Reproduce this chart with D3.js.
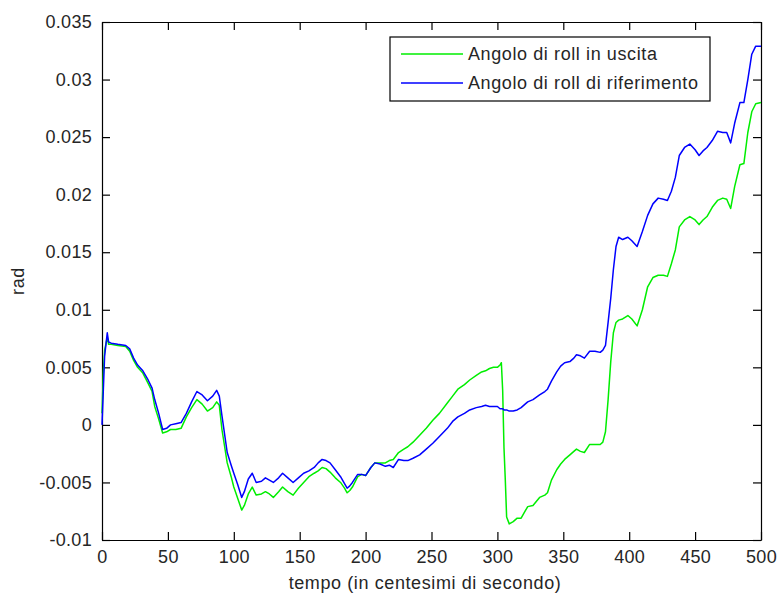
<!DOCTYPE html>
<html>
<head>
<meta charset="utf-8">
<script src="https://cdn.jsdelivr.net/npm/d3@7"></script>
<style>
  body { margin: 0; background: #fff; }
  svg { display: block; font-family: "Liberation Sans", Arial, sans-serif; }
</style>
</head>
<body>
<svg id="chart"></svg>
<script>
// time samples (centesimi di secondo) shared by both series
const tempo = [0, 1, 2, 4, 5, 7, 12, 18, 21, 24, 27, 31, 35, 38, 40, 43, 46, 49, 52, 56, 60, 64, 68, 72, 76, 80, 84, 87, 89, 91, 95, 98,
  100, 103, 106, 108, 111, 114, 117, 121, 124, 127, 130, 134, 137, 141, 145, 149, 153, 157, 161, 164, 167, 170, 173, 177, 181, 184, 186, 188, 190, 194, 197,
  200, 204, 207, 211, 215, 218, 221, 225, 229, 232, 236, 241, 246, 251, 256, 262, 266, 270, 275, 279, 284, 288, 291, 294, 297,
  300, 302, 303, 304, 305, 306, 307, 309, 312, 315, 318, 321, 323, 327, 332, 336, 338, 341, 345, 348, 351, 355, 358, 360, 363, 366, 370, 374, 378, 380, 382, 384, 386, 388, 390, 392, 395, 399,
  402, 406, 410, 414, 418, 422, 426, 429, 432, 435, 438, 442, 446, 450, 453, 456, 459, 463, 467, 471, 474, 477, 480, 484, 487, 490, 493, 496, 500];

const rollUscita = [0.0010, 0.0045, 0.0065, 0.0076, 0.0070, 0.0070, 0.0069, 0.0068, 0.0064, 0.0056, 0.0050, 0.0045, 0.0036, 0.0029, 0.0016, 0.0005, -0.0007, -0.0006, -0.0004, -0.0004, -0.0003, 0.0007, 0.0015, 0.0022, 0.0018, 0.0012, 0.0015, 0.0020, 0.0017, -0.0004, -0.0033, -0.0045,
  -0.0054, -0.0064, -0.0074, -0.0070, -0.0060, -0.0054, -0.0061, -0.0060, -0.0058, -0.0060, -0.0063, -0.0058, -0.0054, -0.0058, -0.0061, -0.0055, -0.0050, -0.0045, -0.0042, -0.0040, -0.0037, -0.0038, -0.0041, -0.0046, -0.0050, -0.0055, -0.0059, -0.0057, -0.0054, -0.0045, -0.0043,
  -0.0044, -0.0037, -0.0033, -0.0033, -0.0033, -0.0031, -0.0030, -0.0024, -0.0021, -0.0019, -0.0015, -0.0009, -0.0003, 0.0004, 0.0010, 0.0019, 0.0025, 0.0031, 0.0035, 0.0039, 0.0043, 0.0046, 0.0047, 0.0049, 0.0050,
  0.0050, 0.0052, 0.0054, 0.0030, -0.0020, -0.0048, -0.0080, -0.0086, -0.0084, -0.0081, -0.0081, -0.0075, -0.0071, -0.0070, -0.0063, -0.0061, -0.0059, -0.0048, -0.0039, -0.0034, -0.0030, -0.0026, -0.0023, -0.0021, -0.0023, -0.0024, -0.0017, -0.0017, -0.0017, -0.0015, -0.0006, 0.0022, 0.0055, 0.0080, 0.0089, 0.0091, 0.0092, 0.0095,
  0.0092, 0.0086, 0.0100, 0.0120, 0.0128, 0.0130, 0.0130, 0.0129, 0.0140, 0.0152, 0.0172, 0.0178, 0.0181, 0.0178, 0.0174, 0.0178, 0.0181, 0.0189, 0.0195, 0.0197, 0.0196, 0.0188, 0.0207, 0.0226, 0.0227, 0.0254, 0.0272, 0.0279, 0.0280];

const rollRiferimento = [0.0000, 0.0030, 0.0060, 0.0080, 0.0072, 0.0071, 0.0070, 0.0069, 0.0066, 0.0058, 0.0052, 0.0047, 0.0039, 0.0032, 0.0022, 0.0010, -0.0004, -0.0003, 0.0000, 0.0001, 0.0002, 0.0010, 0.0020, 0.0029, 0.0026, 0.0021, 0.0025, 0.0030, 0.0025, 0.0008, -0.0024, -0.0035,
  -0.0042, -0.0052, -0.0063, -0.0058, -0.0047, -0.0042, -0.0050, -0.0049, -0.0046, -0.0048, -0.0050, -0.0046, -0.0042, -0.0046, -0.0050, -0.0046, -0.0042, -0.0040, -0.0037, -0.0033, -0.0030, -0.0031, -0.0033, -0.0039, -0.0045, -0.0051, -0.0055, -0.0053, -0.0050, -0.0043, -0.0043,
  -0.0044, -0.0037, -0.0033, -0.0034, -0.0036, -0.0035, -0.0037, -0.0030, -0.0031, -0.0031, -0.0029, -0.0026, -0.0021, -0.0016, -0.0010, -0.0003, 0.0003, 0.0007, 0.0010, 0.0013, 0.0015, 0.0016, 0.0017, 0.0016, 0.0016,
  0.0016, 0.0014, 0.0014, 0.0014, 0.0013, 0.0013, 0.0013, 0.0012, 0.0012, 0.0013, 0.0015, 0.0018, 0.0020, 0.0022, 0.0026, 0.0029, 0.0031, 0.0038, 0.0046, 0.0051, 0.0054, 0.0055, 0.0058, 0.0061, 0.0060, 0.0058, 0.0064, 0.0064, 0.0063, 0.0065, 0.0069, 0.0089, 0.0110, 0.0135, 0.0155, 0.0163, 0.0161, 0.0163,
  0.0160, 0.0155, 0.0168, 0.0182, 0.0192, 0.0197, 0.0196, 0.0195, 0.0203, 0.0215, 0.0234, 0.0241, 0.0244, 0.0239, 0.0234, 0.0238, 0.0241, 0.0247, 0.0255, 0.0254, 0.0254, 0.0245, 0.0262, 0.0280, 0.0280, 0.0300, 0.0322, 0.0329, 0.0329];

const xTicks = [0, 50, 100, 150, 200, 250, 300, 350, 400, 450, 500];
const yTicks = [-0.01, -0.005, 0, 0.005, 0.01, 0.015, 0.02, 0.025, 0.03, 0.035];
const yTickLabels = ["-0.01", "-0.005", "0", "0.005", "0.01", "0.015", "0.02", "0.025", "0.03", "0.035"];
const seriesNames = ["Angolo di roll in uscita", "Angolo di roll di riferimento"];
const seriesColors = ["#00ee00", "#0000ff"];

const w = 779, h = 595;
const margin = { top: 22, right: 18, bottom: 55, left: 102 };

const svg = d3.select("#chart").attr("width", w).attr("height", h);

const xscale = d3.scaleLinear().domain([0, 500]).range([margin.left, w - margin.right]);
const yscale = d3.scaleLinear().domain([-0.01, 0.035]).range([h - margin.bottom, margin.top]);

const tickLen = 8;
const fontSize = 18;
const spacing = "0.6px";

// axes: bottom / left with labels, top / right only ticks (box)
const axisStyle = (g) => {
  g.select(".domain").attr("stroke", "#000").attr("stroke-width", 1.2);
  g.selectAll(".tick line").attr("stroke", "#000").attr("stroke-width", 1.2);
  g.selectAll(".tick text").attr("fill", "#262626").style("font-size", fontSize + "px")
    .style("letter-spacing", "0.3px");
};

svg.append("g")
  .attr("transform", `translate(0,${h - margin.bottom})`)
  .call(d3.axisBottom(xscale).tickValues(xTicks).tickSizeInner(-tickLen).tickSizeOuter(0).tickPadding(10))
  .call(axisStyle);

svg.append("g")
  .attr("transform", `translate(0,${margin.top})`)
  .call(d3.axisTop(xscale).tickValues(xTicks).tickSizeInner(-tickLen).tickSizeOuter(0).tickFormat(""))
  .call(axisStyle);

svg.append("g")
  .attr("transform", `translate(${margin.left},0)`)
  .call(d3.axisLeft(yscale).tickValues(yTicks).tickSizeInner(-tickLen).tickSizeOuter(0).tickPadding(10)
    .tickFormat((d, i) => yTickLabels[i]))
  .call(axisStyle);

svg.append("g")
  .attr("transform", `translate(${w - margin.right},0)`)
  .call(d3.axisRight(yscale).tickValues(yTicks).tickSizeInner(-tickLen).tickSizeOuter(0).tickFormat(""))
  .call(axisStyle);

// lines
const series = [rollUscita, rollRiferimento];
const line = d3.line()
  .x((d, i) => xscale(tempo[i]))
  .y((d) => yscale(d));

svg.append("g")
  .selectAll("path")
  .data(series)
  .join("path")
  .attr("fill", "none")
  .attr("stroke", (d, i) => seriesColors[i])
  .attr("stroke-width", 1.5)
  .attr("stroke-linejoin", "round")
  .attr("d", line);

// axis titles
svg.append("text")
  .attr("x", 425)
  .attr("y", 589)
  .attr("text-anchor", "middle")
  .attr("fill", "#262626")
  .style("font-size", fontSize + "px")
  .style("letter-spacing", spacing)
  .text("tempo (in centesimi di secondo)");

svg.append("text")
  .attr("transform", `translate(24,${(margin.top + h - margin.bottom) / 2}) rotate(-90)`)
  .attr("text-anchor", "middle")
  .attr("fill", "#262626")
  .style("font-size", fontSize + "px")
  .style("letter-spacing", spacing)
  .text("rad");

// legend
const legend = svg.append("g").attr("transform", "translate(390,37)");
legend.append("rect")
  .attr("width", 320)
  .attr("height", 64)
  .attr("fill", "#fff")
  .attr("stroke", "#000")
  .attr("stroke-width", 1.2);

const items = legend.selectAll("g.item")
  .data(seriesNames)
  .join("g")
  .attr("class", "item")
  .attr("transform", (d, i) => `translate(0,${17 + i * 29})`);

items.append("line")
  .attr("x1", 11).attr("x2", 73)
  .attr("stroke", (d, i) => seriesColors[i])
  .attr("stroke-width", 1.5);

items.append("text")
  .attr("x", 78)
  .attr("dy", "0.35em")
  .attr("fill", "#262626")
  .style("font-size", fontSize + "px")
  .style("letter-spacing", spacing)
  .text((d) => d);
</script>
</body>
</html>
